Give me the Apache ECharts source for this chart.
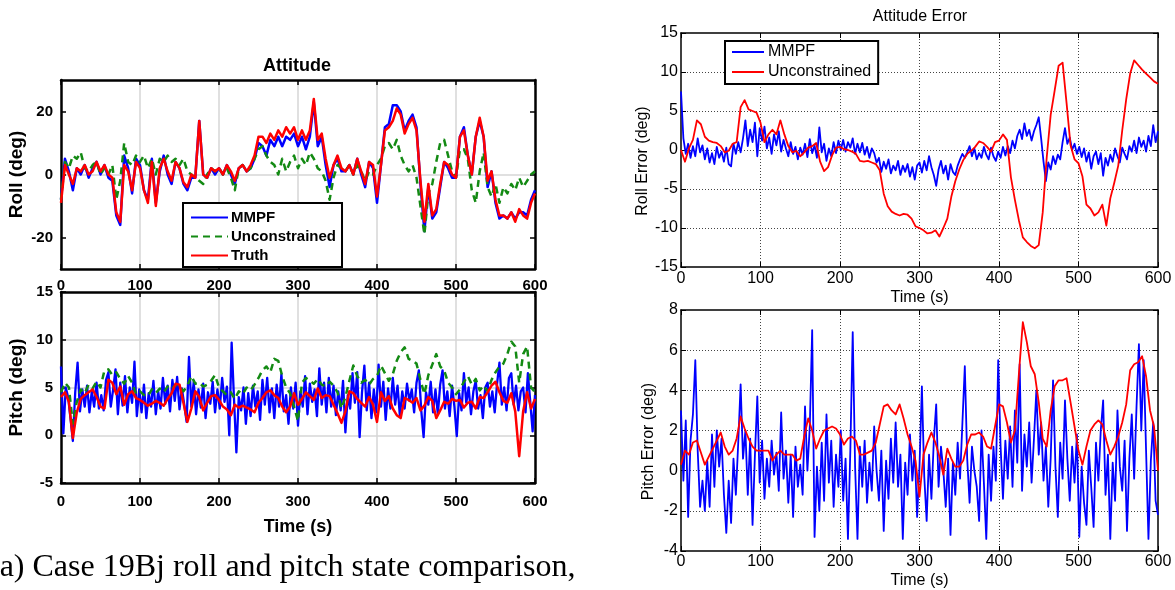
<!DOCTYPE html>
<html><head><meta charset="utf-8">
<script src="https://cdn.jsdelivr.net/npm/echarts@6/dist/echarts.min.js"></script>
<style>html,body{margin:0;padding:0;background:#fff}#c{width:1175px;height:590px}</style>
</head><body><div id="c"></div>
<script>
// ---------- data ----------
const xTicks = [0, 100, 200, 300, 400, 500, 600];
const rollTicks = [-20, 0, 20];
const STEP_A = 5;   // seconds between samples of the smoother series
const STEP_B = 3;   // seconds between samples of the noisy series

// Left top: Roll (deg), samples every 5 s
const rollTruth = [
 -9, 3, 0, -3, 2, 1, 3, 0, 1, 4,
 1, 3, 0, -1, -12, -15, 3, 1, -5, 4,
 2, -5, -9, 4, -10, 2, 5, 1, -2, 4,
 2, -2.5, -4, 0, -1, 17, 0, -1, 2, 1,
 2, 0, 3, 1, -2, 2, 3, 1, 3, 6,
 12, 12, 10, 13, 11, 14, 12, 15, 13, 15,
 11, 14, 11, 14, 24, 11, 13, 5, -1, 3,
 6, 2, 1, 3, 0, 5, 1, -3, 4, 3,
 -7, 3, 14, 15, 17, 21, 19, 13, 16, 18,
 14, -2, -15, -3, -13, -11, -3, 4, 3, 0,
 -1, 12, 14, 6, 0, 12, 18, 12, -2, 1,
 -8, -13, -13, -14, -12, -15, -11, -13, -14, -9,
 -6];
const rollMMPF = [
 -8, 5, 1, -5, 2, 0, 3, -1, 2, 4,
 0, 3, -1, -2, -13, -16, 6, 2, -6, 5,
 3, -5, -8, 5, -9, 1, 6, 0, -3, 4,
 2, -3, -5, -1, -1, 17, 0, -1, 2, 0,
 2, 0, 3, 0, -3, 2, 3, 1, 2, 5,
 10, 9, 6, 11, 9, 12, 9, 12, 11, 13,
 9, 12, 8, 12, 23, 9, 12, 3, -4, 3,
 5, 1, 1, 3, 0, 5, 0, -4, 4, 2,
 -9, 3, 15, 16, 22, 22, 20, 14, 17, 19,
 15, -3, -18, -4, -14, -12, -4, 4, 2, -1,
 -1, 12, 15, 6, 0, 12, 17, 12, -4, 1,
 -9, -14, -13, -14, -12, -14, -12, -12, -13, -8,
 -5];
const rollUncon = [
 -8, 4, 2, 6, 5, 7, 2, 1, 3, 4,
 0, 2, 0, 3, -8, -2, 10, 4, 3, 6,
 4, 6, 2, 5, 0, 5, 4, 6, 4, 5,
 3, 5, 1, 0, -1, -2, -3, 0, 2, 1,
 2, 0, 2, -1, -5, 2, 3, 1, 2, 5,
 8, 9, 6, 4, 3, 0, 5, 1, 4, 6,
 2, 5, 3, 7, 5, 2, 1, -2, -8, -1,
 3, 2, 1, 3, 0, 3, 1, -2, 1, 0,
 3, 5, 9, 10, 8, 11, 6, 3, 1, 3,
 -1, -10, -19, -6, -3, 4, 10, 11, 6, 1,
 -1, 8, 8, 5, -5, -9, 1, 7, -4, -7,
 -3, -9, -4, -6, -3, -5, -1, -4, -2, 0,
 1];

// Left bottom: Pitch (deg)
const pitchTruth = [
 4, 4.5, 3.5, -0.3, 2.4, 3.8, 4.2, 4.5, 4.8, 4,
 3, 2.8, 5.8, 5.5, 4.3, 5.1, 3.2, 4.3, 4.6, 3.9,
 3.7, 3.4, 3.1, 3.3, 3.6, 3.4, 3.1, 3.8, 4.4, 5.4,
 5.3, 3.4, 1.4, 2.8, 4.6, 4, 2.6, 3.4, 4.1, 4.2,
 3.7, 3, 2.7, 2.1, 3.2, 2.9, 3.1, 2.9, 2.7, 2.4,
 3.4, 3.9, 4.5, 4.7, 4.2, 3.9, 3, 2.4, 3, 4.4,
 3.2, 3.8, 4.5, 4.1, 3.7, 4.9, 3.9, 4.2, 4.1, 3.2,
 2.3, 1.3, 2.5, 4.6, 4.4, 3.8, 3.4, 3, 4, 3.2,
 1.4, 4.5, 3.6, 4.1, 2.8, 2.1, 1.8, 3.9, 3.7, 3.4,
 3.9, 2.6, 3.1, 4, 3.6, 1.8, 2.6, 3.5, 3.3, 3.8,
 3.6, 3.7, 2.9, 3.4, 3.5, 2.8, 4, 3.9, 4.5, 5.2,
 5.6, 4.5, 3.6, 3.4, 4.4, 2.5, -2.2, 2.5, 4.5, 2.8,
 3.8];
const pitchUncon = [
 4.5, 5.5, 5, 1.2, 3.5, 4.8, 4.4, 5.3, 4.9, 5.6,
 5, 6.8, 6.9, 6.3, 6.6, 5.9, 5.4, 6.2, 5.5, 4.3,
 4.6, 4.2, 4.1, 4.8, 4.4, 4.9, 4.5, 5.1, 4.8, 5.3,
 5.1, 4.6, 5.2, 6.2, 5.4, 5.5, 5.1, 5.3, 5.7, 6.3,
 5, 4.6, 4.2, 4.5, 3.8, 4.6, 4.3, 5, 4.7, 5.3,
 6, 6.8, 7.2, 6.6, 8, 7.8, 6.2, 5, 4.4, 3,
 1.5, 5.5, 6, 5.7, 5.4, 5.9, 5.3, 5.1, 5.6, 5.2,
 4.5, 2.8, 4, 5.7, 7.3, 6.2, 5.5, 5.8, 5.3, 5.9,
 6.2, 7.3, 6.5, 5.7, 6.4, 7.8, 8.7, 9.2, 8, 7.8,
 7.5, 5.8, 4.3, 6.3, 7.4, 8.5, 7.2, 6.8, 5.5, 5,
 4.3, 4.8, 5.6, 6.2, 5.3, 5.9, 4.7, 5.2, 4.6, 5.8,
 6.6, 7.2, 7.5, 8.5, 9.8, 9.3, 5.5, 8.5, 9.3, 5,
 4.5];
// samples every 3 s
const pitchMMPF = [
 7.2, 0.2, 5, 4, 1.8, -0.6, 4.5, 7.6, 2.5, 4.8,
 3, 5.2, 2.4, 4.6, 3, 5.5, 2.8, 4.2, 2.6, 5.8,
 6.6, 3, 4.8, 6.9, 2.2, 5.5, 3.1, 6.2, 2.4, 5,
 3.4, 7.7, 2, 4.8, 2.4, 5.3, 1.8, 4.4, 3, 5.7,
 2.2, 4.6, 2.8, 6, 3.3, 5.2, 2.5, 5.8, 3.6, 6.1,
 2.7, 4.9, 3.2, 1.4, 8.2, 3, 5.6, 2.2, 4.8, 2.9,
 5.4, 1.8, 4.5, 3.3, 5.6, 2.4, 4.8, 2.8, 6, 3.5,
 5.1, 0, 9.7, 3.8, -1.8, 4, 2.6, 5, 1.2, 4.4,
 2, 5.2, 3, 4.6, 1.6, 5.8, 3.2, 6, 2.4, 4.9,
 1.8, 5.3, 3, 6.4, 2.5, 4.2, 1.2, 5, 2.8, 5.5,
 1, 4.6, 3, 6.2, 2.2, 5.4, 3.5, 4.8, 2, 7,
 3.2, 5.5, 2.4, 6, 3, 5.2, 2.1, 4.6, 2.6, 5.7,
 0.3, 4.2, 2.8, 6.5, 3.4, 6.6, -0.2, 4.5, 7.3, 2.6,
 5.5, 1.8, 4.8, 2.4, 7.4, 3, 5.6, 1.6, 4.9, 2.8,
 6, 3.2, 5.2, 2, 4.6, 2.8, 5.4, 3.6, 4.8, 2.4,
 5.5, 6.8, 2.6, -0.2, 4.5, 3.2, 5.6, 2.4, 4.8, 2.2,
 5.3, 6.8, 2.8, 4.6, 2, 5.2, 3, -0.1, 4.4, 2.6,
 6.5, 3.4, 5, 2.2, 4.6, 5.7, 2.8, 4.2, 1.8, 5,
 5.5, 3, 4.6, 2.4, 5.4, 7.6, 3.2, 5, 2.6, 6,
 6.5, 3.2, 5.2, 2.6, 4.6, 5, 2.4, 6.5, 3.5, 0.4,
 4.2];

// Right top: Roll Error (deg)
const rollErrUncon = [
 0, -1.5, 0.2, 1.3, 3.8, 3.3, 1.7, 1.2, 1, 0.9,
 0.5, -0.3, -0.1, 0.8, 1, 5.5, 6.4, 5.2, 5, 4.8,
 3.5, 1, 2, 2.6, 2, 3.8, 2, 0.5, -0.3, -0.1,
 -0.8, -0.3, 0.3, 0.5, 0.9, -1.5, -2.7, -2.2, -0.7, 0.3,
 0.4, 0.1, 0, -0.2, -0.5, -1.4, -1.5, -1.4, -1.6, -1.8,
 -2.6, -5.6, -7.2, -7.9, -8.2, -8.4, -8.2, -8.3, -8.8, -9.8,
 -10, -10.3, -10.7, -10.6, -10.3, -11.1, -10, -8.8, -6, -4,
 -2.5, -1.3, -0.5, -0.1, 0.4, 1.1, 0.9, 0.4, -0.2, 1,
 1.2, 2, 1.3, -3.5, -6.4, -9, -11.2, -11.8, -12.3, -12.6,
 -12.2, -8, -1, 4.5, 7.6, 10.8, 11.2, 6, 0.6, -1.2,
 -1.7, -3.4, -7, -7.5, -8.4, -8, -7, -9.7, -6.2, -4.2,
 -2, 2.5, 6.5, 9.8, 11.5, 10.9, 10.3, 9.8, 9.3, 8.8,
 8.5];
const rollErrMMPF = [
 7.5, 1.5, -0.5, 0.8, -1, 0.5, -0.8, 1.5, -0.3, 0.6,
 -1.2, 0.2, -1.6, -0.4, -1.8, 0.4, -1, -0.2, -1.5, 0.3,
 -1.8, -2.1, 0.8, -0.5, 1, -0.3, 1.5, 3.8, 0.5, 2.6,
 1, 3.5, -0.8, 2.8, 1.2, 3, 0.2, 1.6, -0.5, 2,
 0.6, 2.4, -0.2, 1.3, 0.2, -0.8, 1, -0.5, 0.4, -1.2,
 0.3, -0.6, 0.8, -0.9, 1.4, -0.4, 0.6, -1, 2.9, -0.3,
 0.8, -1.4, 0.2, -0.8, 1, -0.4, 1.2, 0, 1.3, -0.2,
 1, 0.3, 1.5, -0.5, 0.8, -0.3, 0.9, -0.6, 0.4, -1,
 0.2, -0.4, -1.6, -1, -2.8, -1.5, -2.4, -1.2, -3, -2,
 -2.6, -1.4, -3.2, -2, -2.8, -1.8, -3.4, -2.2, -3.8, -2,
 -1.6, -2.9, -1.4, -2.6, -0.8, -2.2, -3.2, -4.6, -2.5, -1.4,
 -3, -2, -3.8, -1.8, -2.8, -3.2, -2, -1.2, -0.5, -1,
 -0.3, 0.5, -0.8, 0.2, -1.2, -0.4, -1, 0.4, -0.6, -1.2,
 0.3, -0.8, -1.4, -0.2, -1, 0.4, -0.7, 0.5, -0.4, 1.2,
 0.2, 1.8, 2.6, 1.4, 3.4, 1.8, 2.6, 1.2, 2.4, 3.2,
 4.2, 1.5, -1.5, -4, -1.6, -2.5, -0.8, -1.8, -0.6, -1.2,
 1, 2.8, 0.8, 1.6, 0, 0.8, -0.5, 0.4, -0.9, 0.2,
 -1.5, -0.3, -2.4, -0.8, -0.2, -1.8, -0.4, -3.3, -1, -2,
 -0.6, -1.5, 0.2, -0.8, -1.6, 0.3, -0.5, -1.2, 0.5, -0.2,
 1.2, -0.4, 1.6, 0.4, 1.2, -0.2, 1.8, 0.5, 3.2, 1,
 2.4];

// Right bottom: Pitch Error (deg)
const pitchErrUncon = [
 0.3, 1, 0.8, 1.4, 1.5, 0.9, 0.3, 0.7, 1.1, 1.5,
 1.9, 1.2, 0.8, 1, 1.6, 2.7, 2.1, 1.6, 1.2, 1,
 1, 1, 1, 0.5, 0.8, 1, 0.8, 0.8, 0.8, 0.5,
 0.6, 1.7, 2.6, 2, 1.1, 1.6, 2, 2.1, 2.2, 2.1,
 1.8, 1.3, 1.6, 1.7, 1.5, 0.8, 0.8, 0.9, 1, 1.4,
 2.3, 3.2, 3.3, 3, 2.8, 3.3, 2.6, 1.8, 1.2, 0.5,
 -1.3, 0.8, 1.4, 1.9, 1.4, 0.7, -0.2, 1.1, 0.6, 0.2,
 0.2, 0.5, 1.3, 1.8, 1.8, 1.9, 1.7, 1.2, 1.1, 2.2,
 3.3, 3.2, 2.4, 1.4, 2, 4.8, 7.4, 6.4, 5.2, 4.8,
 3.4, 1.6, 1.2, 3, 4.2, 4.5, 4.5, 4.6, 3.4, 2.2,
 1, 0.3, 1.2, 2, 2.3, 2.5, 2.3, 1.5, 0.8, 1.2,
 1.7, 2.4, 3.3, 5, 5.3, 5.4, 5.7, 4.7, 3, 2.2,
 0];
const pitchErrMMPF = [
 3, -0.5, 2.5, -2.3, 1.5, 2.8, 5.5, 1, -1.8, -0.5,
 -2, 0.5, -1.8, 1.8, -0.8, 2, 0.2, 1.6, -1.2, -3.1,
 -0.5, -2.6, 0.6, -1.2, 1.4, 4.3, 0.6, 2, -1.2, 1.6,
 -2.7, 0.8, 3.7, -0.6, 1.5, -1.4, 0.6, -0.8, 1.5, -0.2,
 0.9, -1, 2.9, -0.4, 1, -1.6, 0.8, -2.3, 1.2, -0.8,
 0.3, -1.2, 3.2, 0, 2.2, 7, -3.3, 0.2, -2, 1.4,
 -1.5, 2.8, -0.6, 1.5, -1.8, 0.8, -0.8, 2, -1.5, 0.6,
 -3.4, 1, 6.9, 0.2, -3.4, 1.2, -0.8, 1.5, -1.6, 0.4,
 -1, 2.2, 0, -1.5, 1, -3, 0.5, -1.4, 1.6, -0.6,
 2.4, -0.8, 0.8, -3.4, 0.4, -1.2, 1.8, -0.5, 1, -2.3,
 0.2, 4.2, -0.3, -2.5, 0.8, -1.4, 1.5, 3.3, -0.8, 1.2,
 0, -1.8, 0.6, -3.2, 0.4, -1.2, 1.4, -0.4, 2.4, 5.2,
 0.6, -1.6, 1.2, 0, -0.8, -2.5, 2, -0.6, -3.4, 0.8,
 -1.5, 1.2, -0.5, 5.5, 1.2, -1.4, 1.5, -0.4, 2.2, -0.8,
 3, 0.4, 5.3, -1, 1.8, 0.2, 2.4, -0.6, 1.6, 4,
 0.8, 2.4, -0.5, 1.2, -1.8, 0.6, 4.5, 0.2, -2.3, 1.4,
 -0.4, 3.5, 0.6, -1.5, 1.2, -0.6, 1.8, -3.3, 0.2, -1.6,
 -2.7, 1, -0.8, -2.8, 1.4, -0.5, 2, 3.5, -1.2, 0.8,
 -3.4, 0.4, -1.5, 3, 0.2, -1, 1.5, -3, 0.6, 2.8,
 -0.4, 3.2, 6.3, 2, 5.5, 1, -3.4, 0.5, 2.4, -1.5,
 -2.2];

// ---------- chart ----------
const pairs = (vals, step) => vals.map((v, i) => [i * step, v]);
const FF = '"Liberation Sans", Arial, sans-serif';
const BOLD = {fontFamily: FF, fontWeight: 'bold', color: '#000'};
const NORM = {fontFamily: FF, color: '#000'};
const BLUE = '#0000ff', RED = '#ff0000', GREEN = '#138a13';

function splitStyle(left) {
  return left ? {showMinLine: false, showMaxLine: false, lineStyle: {color: '#d6d6d6', width: 1.5}}
              : {showMinLine: false, showMaxLine: false, lineStyle: {color: '#444', width: 1, type: [1, 2]}};
}
function frameLine(left) {
  return {show: true, onZero: false, lineStyle: {color: '#000', width: left ? 2.5 : 1.5}};
}
function xAxes(gi, left, opts) {
  const tick = {inside: true, length: 5, lineStyle: {color: '#000', width: left ? 1.5 : 1}};
  return [
    Object.assign({gridIndex: gi, type: 'value', min: 0, max: 600, interval: 100, position: 'bottom',
      axisLine: frameLine(left), axisTick: tick, splitLine: splitStyle(left)}, opts),
    {gridIndex: gi, type: 'value', min: 0, max: 600, interval: 100, position: 'top',
      axisLine: frameLine(left), axisTick: tick, axisLabel: {show: false}, splitLine: {show: false}}
  ];
}
function yAxes(gi, left, opts, custom) {
  const tick = {inside: true, length: 5, lineStyle: {color: '#000', width: left ? 1.5 : 1}};
  if (custom) tick.customValues = custom;
  return [
    Object.assign({gridIndex: gi, type: 'value', position: 'left',
      axisLine: frameLine(left), axisTick: tick, splitLine: splitStyle(left)}, opts),
    {gridIndex: gi, type: 'value', position: 'right', min: opts.min, max: opts.max, interval: opts.interval,
      axisLine: frameLine(left), axisTick: tick, axisLabel: {show: false}, splitLine: {show: false}}
  ];
}

const xAxis = [].concat(
  xAxes(0, true, {axisLabel: Object.assign({fontSize: 15, margin: 9}, BOLD)}),
  xAxes(1, true, {axisLabel: Object.assign({fontSize: 15, margin: 11}, BOLD),
    name: 'Time (s)', nameLocation: 'middle', nameGap: 35, nameTextStyle: Object.assign({fontSize: 18}, BOLD)}),
  xAxes(2, false, {axisLabel: Object.assign({fontSize: 16, margin: 4}, NORM),
    name: 'Time (s)', nameLocation: 'middle', nameGap: 23, nameTextStyle: Object.assign({fontSize: 16}, NORM)}),
  xAxes(3, false, {axisLabel: Object.assign({fontSize: 16, margin: 3}, NORM),
    name: 'Time (s)', nameLocation: 'middle', nameGap: 22, nameTextStyle: Object.assign({fontSize: 16}, NORM)})
);
const yAxis = [].concat(
  yAxes(0, true, {min: -30, max: 30, interval: 10,
    axisLabel: Object.assign({fontSize: 15, margin: 8, customValues: rollTicks}, BOLD),
    name: 'Roll (deg)', nameLocation: 'middle', nameGap: 35, nameTextStyle: Object.assign({fontSize: 19}, BOLD)},
    rollTicks),
  yAxes(1, true, {min: -5, max: 15, interval: 5,
    axisLabel: Object.assign({fontSize: 15, margin: 8}, BOLD),
    name: 'Pitch (deg)', nameLocation: 'middle', nameGap: 35, nameTextStyle: Object.assign({fontSize: 19}, BOLD)}),
  yAxes(2, false, {min: -15, max: 15, interval: 5,
    axisLabel: Object.assign({fontSize: 16, margin: 3}, NORM),
    name: 'Roll Error (deg)', nameLocation: 'middle', nameGap: 30,
    nameTextStyle: Object.assign({fontSize: 16, padding: [0, 22, 0, 0]}, NORM)}),
  yAxes(3, false, {min: -4, max: 8, interval: 2,
    axisLabel: Object.assign({fontSize: 16, margin: 3}, NORM),
    name: 'Pitch Error (deg)', nameLocation: 'middle', nameGap: 24,
    nameTextStyle: Object.assign({fontSize: 16, padding: [0, 22, 0, 0]}, NORM)})
);

function line(name, gi, data, color, width, dashed) {
  return {name, type: 'line', xAxisIndex: gi * 2, yAxisIndex: gi * 2, data, symbol: 'none',
    showSymbol: false, animation: false, silent: true, clip: true,
    lineStyle: {color, width, type: dashed ? [7, 5] : 'solid', join: 'round'}, itemStyle: {color}};
}

const series = [
  line('MMPF', 0, pairs(rollMMPF, STEP_A), BLUE, 2.5),
  line('Unconstrained', 0, pairs(rollUncon, STEP_A), GREEN, 2.5, true),
  line('Truth', 0, pairs(rollTruth, STEP_A), RED, 2.5),
  line('MMPF', 1, pairs(pitchMMPF, STEP_B), BLUE, 2.3),
  line('Unconstrained', 1, pairs(pitchUncon, STEP_A), GREEN, 2.5, true),
  line('Truth', 1, pairs(pitchTruth, STEP_A), RED, 2.5),
  line('MMPF error', 2, pairs(rollErrMMPF, STEP_B), BLUE, 1.8),
  line('Unconstrained error', 2, pairs(rollErrUncon, STEP_A), RED, 1.8),
  line('MMPF error', 3, pairs(pitchErrMMPF, STEP_B), BLUE, 1.8),
  line('Unconstrained error', 3, pairs(pitchErrUncon, STEP_A), RED, 1.8)
];

const gridBase = {show: true, backgroundColor: '#fff', borderWidth: 0, containLabel: false};
const option = {
  backgroundColor: '#fff',
  animation: false,
  grid: [
    Object.assign({left: 61, top: 80, width: 474, height: 189}, gridBase),
    Object.assign({left: 61, top: 292, width: 474, height: 191}, gridBase),
    Object.assign({left: 681, top: 33, width: 477, height: 234}, gridBase),
    Object.assign({left: 681, top: 310, width: 477, height: 241}, gridBase)
  ],
  xAxis, yAxis, series,
  legend: [
    {left: 183, top: 203, orient: 'vertical', data: ['MMPF', 'Unconstrained', 'Truth'],
     backgroundColor: '#fff', borderColor: '#000', borderWidth: 2, borderRadius: 0,
     padding: [7, 6, 4, 7], itemWidth: 37, itemHeight: 16, itemGap: 4, selectedMode: false,
     itemStyle: {opacity: 0},
     textStyle: Object.assign({fontSize: 15, padding: [0, 0, 0, -2]}, BOLD)},
    {left: 725, top: 41, orient: 'vertical', data: ['MMPF error', 'Unconstrained error'],
     formatter: n => n.replace(' error', ''),
     backgroundColor: '#fff', borderColor: '#000', borderWidth: 2, borderRadius: 0,
     padding: [3, 7, 4, 6], itemWidth: 32, itemHeight: 16, itemGap: 4, selectedMode: false,
     itemStyle: {opacity: 0},
     textStyle: Object.assign({fontSize: 16, padding: [0, 0, 0, -1]}, NORM)}
  ],
  graphic: [
    {type: 'text', x: 297, y: 66, silent: true,
     style: {text: 'Attitude', font: 'bold 18px ' + FF, fill: '#000', align: 'center', verticalAlign: 'middle', textAlign: 'center', textVerticalAlign: 'middle'}},
    {type: 'text', x: 920, y: 17, silent: true,
     style: {text: 'Attitude Error', font: '16px ' + FF, fill: '#000', align: 'center', verticalAlign: 'middle', textAlign: 'center', textVerticalAlign: 'middle'}},
    {type: 'text', x: -11, y: 568, silent: true,
     style: {text: '(a) Case 19Bj roll and pitch state comparison,', font: '32px "Liberation Serif", "Times New Roman", serif', fill: '#000', align: 'left', verticalAlign: 'middle', textAlign: 'left', textVerticalAlign: 'middle'}}
  ]
};
const chart = echarts.init(document.getElementById('c'), null, {renderer: 'canvas'});
chart.setOption(option);
</script>
</body></html>
